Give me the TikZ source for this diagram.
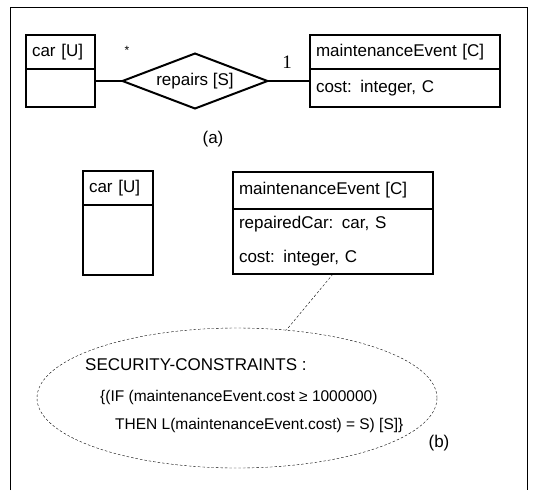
\documentclass[tikz,border=0pt]{standalone}
\usepackage{fontspec}
\setmainfont{Liberation Sans}
\newfontfamily\onefont{Liberation Serif}
\usetikzlibrary{positioning}
\usetikzlibrary{calc}
\usetikzlibrary{shapes}

\tikzset{
clshead/.style={draw,line width=2pt,anchor=north west,inner xsep=6pt,inner ysep=0pt,outer sep=0pt,align=left,minimum height=34pt},
clsbody/.style={clshead,minimum height=38pt},
rel/.style={draw,line width=2pt,diamond,aspect=2.6,inner sep=0pt,outer sep=0pt,minimum width=145pt,minimum height=55pt},
dots/.style={dash pattern=on 2.5pt off 2pt,thin},
note/.style={draw,ellipse,dots,inner sep=0pt,minimum width=400pt,minimum height=140pt},
small/.style={font=\fontsize{15.5}{18}\selectfont},
}

\begin{document}
\begin{tikzpicture}[x=1pt,y=-1pt,font=\fontsize{17}{20}\selectfont]
\useasboundingbox (0,0) rectangle (535,490);
\draw[semithick](10,490)--(10,7)--(527,7)--(527,490);

% (a)
\node[clshead,text width=57pt](carH) at (26,35){car [U]};
\node[clsbody,text width=57pt](carB) at (carH.south west){};
\node[rel](repairs) at (195,81){repairs [S]};
\node[clshead,text width=178pt](meH) at (310,35){maintenanceEvent [C]};
\node[clsbody,text width=178pt](meB) at (meH.south west){cost: integer, C};
\node[font=\fontsize{12}{12}\selectfont](many) at (127,50){*};
\node[font=\onefont\fontsize{19}{20}\selectfont](one) at (287,62){1};
\node[](capA) at (213,139){(a)};

\path
(carB.east|-repairs.west) edge[line width=2pt] (repairs.west)
(repairs.east) edge[line width=2pt] (meB.west|-repairs.east);

% (b)
\node[clshead,text width=58pt](car2H) at (83,171){car [U]};
\node[clsbody,text width=58pt,minimum height=70pt](car2B) at (car2H.south west){};
\node[clshead,text width=188pt,minimum height=37pt](me2H) at (233,172){maintenanceEvent [C]};
\node[clsbody,text width=188pt,minimum height=65pt](me2B) at (me2H.south west){repairedCar: car, S\\[14pt]cost: integer, C};

\node[note](sc) at (237,398){};
\node[anchor=west,inner xsep=0pt](sc1) at (85,365){SECURITY-CONSTRAINTS :};
\node[anchor=west,inner xsep=0pt,small](sc2) at (100,397){\{(IF (maintenanceEvent.cost ≥ 1000000)};
\node[anchor=west,inner xsep=0pt,small](sc3) at (115,425){THEN L(maintenanceEvent.cost) = S) [S]\}};
\node[](capB) at (439,443){(b)};

\path (me2B.south) edge[dots] (sc.54);
\end{tikzpicture}
\end{document}
